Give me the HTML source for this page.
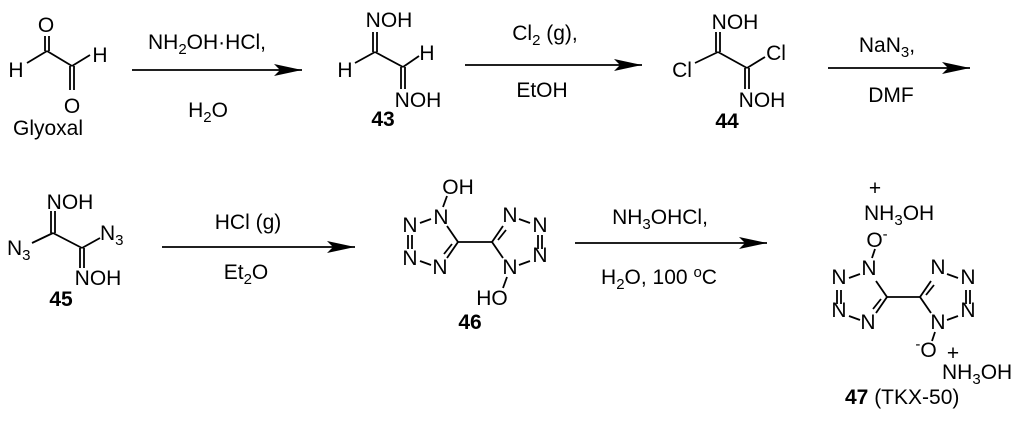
<!DOCTYPE html>
<html><head><meta charset="utf-8"><style>
html,body{margin:0;padding:0;background:#fff}
svg{display:block}
text{font-family:"Liberation Sans",Arial,sans-serif;font-size:21px;fill:#000}
.b{font-weight:bold}
.m{text-anchor:middle}
</style></head><body>
<svg width="1024" height="425" viewBox="0 0 1024 425" xmlns="http://www.w3.org/2000/svg">
<defs>
<marker id="ah" markerWidth="30" markerHeight="12" refX="28" refY="6" orient="auto" markerUnits="userSpaceOnUse">
<path d="M0,0 L28,6 L0,12 L6,6 Z" fill="#000"/>
</marker>
<g id="tz" stroke="#000" stroke-width="1.8" fill="none">
<line x1="-11" y1="-16" x2="0" y2="0"/>
<line x1="0" y1="0" x2="-11" y2="16"/>
<line x1="-6" y1="2" x2="-14" y2="12"/>
<line x1="-27" y1="23" x2="-38" y2="19"/>
<line x1="-50" y1="-7" x2="-50" y2="7"/>
<line x1="-46" y1="-7" x2="-46" y2="7"/>
<line x1="-38" y1="-19" x2="-27" y2="-23"/>
</g>
</defs>
<g stroke="#000" stroke-width="1.8" fill="none">
<line x1="27" y1="63" x2="47" y2="51"/>
<line x1="45" y1="36" x2="45" y2="51"/><line x1="49" y1="36" x2="49" y2="51"/>
<line x1="47" y1="51" x2="72" y2="66"/>
<line x1="72" y1="66" x2="90" y2="55"/>
<line x1="70" y1="66" x2="70" y2="90"/><line x1="74" y1="66" x2="74" y2="90"/>
<line x1="355" y1="63" x2="375" y2="52"/>
<line x1="373" y1="32" x2="373" y2="52"/><line x1="377" y1="32" x2="377" y2="52"/>
<line x1="375" y1="52" x2="403" y2="67"/>
<line x1="403" y1="67" x2="419" y2="56"/>
<line x1="401" y1="67" x2="401" y2="89"/><line x1="405" y1="67" x2="405" y2="89"/>
<line x1="695" y1="63" x2="718" y2="52"/>
<line x1="716" y1="32" x2="716" y2="52"/><line x1="720" y1="32" x2="720" y2="52"/>
<line x1="718" y1="52" x2="747" y2="68"/>
<line x1="747" y1="68" x2="765" y2="57"/>
<line x1="745" y1="68" x2="745" y2="89"/><line x1="749" y1="68" x2="749" y2="89"/>
<line x1="32" y1="243" x2="53" y2="233"/>
<line x1="51" y1="211" x2="51" y2="233"/><line x1="55" y1="211" x2="55" y2="233"/>
<line x1="53" y1="233" x2="82" y2="248"/>
<line x1="82" y1="248" x2="100" y2="238"/>
<line x1="80" y1="248" x2="80" y2="268"/><line x1="84" y1="248" x2="84" y2="268"/>
<line x1="458" y1="242" x2="492" y2="242"/>
<line x1="443" y1="207" x2="447" y2="196"/>
<line x1="507" y1="277" x2="503" y2="288"/>
<line x1="887" y1="297" x2="920" y2="297"/>
<line x1="872" y1="258" x2="875" y2="249"/>
<line x1="935" y1="332" x2="932" y2="341"/>
<line x1="132" y1="70" x2="302" y2="70" marker-end="url(#ah)"/>
<line x1="465" y1="65" x2="642" y2="65" marker-end="url(#ah)"/>
<line x1="828" y1="68" x2="970" y2="68" marker-end="url(#ah)"/>
<line x1="162" y1="247" x2="355" y2="247" marker-end="url(#ah)"/>
<line x1="575" y1="243" x2="767" y2="243" marker-end="url(#ah)"/>
</g>
<use href="#tz" x="458" y="242"/>
<use href="#tz" transform="translate(492,242) rotate(180)"/>
<use href="#tz" x="887" y="297"/>
<use href="#tz" transform="translate(920,297) rotate(180)"/>

<text class="m" x="46" y="32">O</text>
<text class="m" x="16" y="77">H</text>
<text class="m" x="100" y="62">H</text>
<text class="m" x="72" y="113">O</text>
<text x="13" y="135">Glyoxal</text>
<text class="m" x="207" y="49">NH<tspan font-size="15" dy="5">2</tspan><tspan dy="-5">OH·HCl,</tspan></text>
<text class="m" x="208" y="117">H<tspan font-size="15" dy="5">2</tspan><tspan dy="-5">O</tspan></text>
<text class="m" x="389" y="27">NOH</text>
<text class="m" x="345" y="77">H</text>
<text class="m" x="427" y="60">H</text>
<text class="m" x="418" y="107">NOH</text>
<text class="m b" x="383" y="126">43</text>
<text class="m" x="545" y="40">Cl<tspan font-size="15" dy="5">2</tspan><tspan dy="-5"> (g),</tspan></text>
<text class="m" x="542" y="97">EtOH</text>
<text class="m" x="735" y="29">NOH</text>
<text class="m" x="682" y="77">Cl</text>
<text class="m" x="776" y="60">Cl</text>
<text class="m" x="762" y="107">NOH</text>
<text class="m b" x="727" y="128">44</text>
<text class="m" x="887" y="52">NaN<tspan font-size="15" dy="5">3</tspan><tspan dy="-5">,</tspan></text>
<text class="m" x="891" y="102">DMF</text>
<text class="m" x="70" y="209">NOH</text>
<text x="7" y="255">N<tspan font-size="15" dy="5">3</tspan></text>
<text x="100" y="240">N<tspan font-size="15" dy="5">3</tspan></text>
<text class="m" x="98" y="285">NOH</text>
<text class="m b" x="61" y="306">45</text>
<text class="m" x="248" y="229">HCl (g)</text>
<text class="m" x="246" y="279">Et<tspan font-size="15" dy="5">2</tspan><tspan dy="-5">O</tspan></text>
<text class="m" x="458" y="194">OH</text>
<text class="m" x="441" y="224">N</text>
<text class="m" x="410" y="232">N</text>
<text class="m" x="410" y="265">N</text>
<text class="m" x="440" y="274">N</text>
<text class="m" x="510" y="222">N</text>
<text class="m" x="540" y="232">N</text>
<text class="m" x="540" y="262">N</text>
<text class="m" x="510" y="274">N</text>
<text class="m" x="492" y="305">HO</text>
<text class="m b" x="470" y="329">46</text>
<text class="m" x="660" y="224">NH<tspan font-size="15" dy="5">3</tspan><tspan dy="-5">OHCl,</tspan></text>
<text class="m" x="659" y="284">H<tspan font-size="15" dy="5">2</tspan><tspan dy="-5">O, 100 </tspan><tspan font-size="15" dy="-7">o</tspan><tspan dy="7">C</tspan></text>
<text class="m" x="875" y="195" font-size="15">+</text>
<text x="864" y="220">NH<tspan font-size="15" dy="5">3</tspan><tspan dy="-5">OH</tspan></text>
<text class="m" x="877" y="247">O<tspan font-size="15" dy="-8">-</tspan></text>
<text class="m" x="869" y="275">N</text>
<text class="m" x="839" y="284">N</text>
<text class="m" x="839" y="317">N</text>
<text class="m" x="868" y="329">N</text>
<text class="m" x="938" y="274">N</text>
<text class="m" x="968" y="284">N</text>
<text class="m" x="968" y="317">N</text>
<text class="m" x="938" y="329">N</text>
<text class="m" x="926" y="357"><tspan font-size="15" dy="-8">-</tspan><tspan dy="8">O</tspan></text>
<text class="m" x="953" y="360" font-size="15">+</text>
<text x="942" y="379">NH<tspan font-size="15" dy="5">3</tspan><tspan dy="-5">OH</tspan></text>
<text x="845" y="404"><tspan class="b">47</tspan> (TKX-50)</text>
</svg>
</body></html>
